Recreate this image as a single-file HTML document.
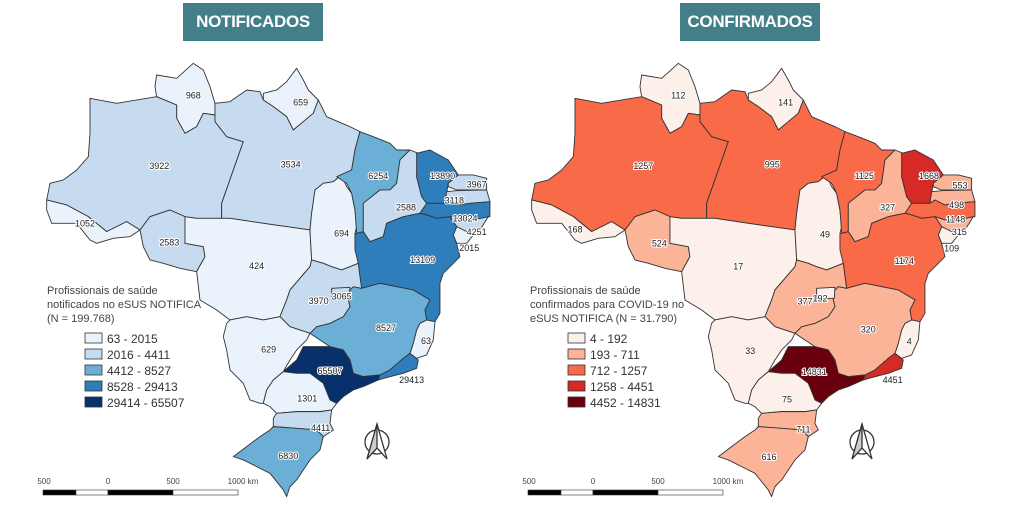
<!DOCTYPE html>
<html><head><meta charset="utf-8"><style>
body{margin:0;background:#fff;width:1024px;height:506px;overflow:hidden;font-family:"Liberation Sans",sans-serif}
.hd{position:absolute;top:3px;height:38px;width:140px;background:#437f89;color:#fff;font-weight:bold;font-size:17px;letter-spacing:-0.3px;line-height:38px;text-align:center}
</style></head><body>
<div class="hd" style="left:183px">NOTIFICADOS</div>
<div class="hd" style="left:680px">CONFIRMADOS</div>
<svg width="1024" height="506" style="position:absolute;left:0;top:0">
<defs>
<g id="m" stroke="#333" stroke-width="2.7" stroke-linejoin="round">
<path style="fill:var(--RR)" d="M380,75 440,85 490,40 520,60 540,110 555,160 555,195 520,190 500,230 465,250 440,205 440,165 380,140 375,110Z"/>
<path style="fill:var(--AP)" d="M700,130 740,120 770,95 800,55 820,90 835,120 865,150 850,190 820,215 790,240 770,200 730,170 700,150Z"/>
<path style="fill:var(--AM)" d="M180,145 260,160 380,140 440,165 440,205 465,250 500,230 520,190 555,195 555,215 590,260 640,275 575,460 575,505 500,505 465,500 420,480 360,500 330,540 290,515 230,545 175,500 110,465 50,450 60,400 100,390 140,360 175,320 180,250Z"/>
<path style="fill:var(--AC)" d="M50,450 110,465 175,500 230,545 290,515 330,540 300,560 250,565 200,580 180,570 140,520 90,520 65,520 50,480Z"/>
<path style="fill:var(--PA)" d="M555,195 555,160 600,155 650,120 690,125 700,150 730,170 770,200 790,240 820,215 850,190 865,150 890,200 960,230 990,245 975,300 965,360 935,375 910,395 880,400 855,420 845,490 840,540 700,520 600,505 575,505 575,460 640,275 590,260 555,215Z"/>
<path style="fill:var(--RO)" d="M330,540 360,500 420,480 465,500 465,580 520,590 525,620 500,665 450,655 400,640 360,630 340,590Z"/>
<path style="fill:var(--MT)" d="M465,500 500,505 575,505 600,505 700,520 840,540 845,630 840,650 780,720 770,750 750,800 700,810 650,800 600,810 560,780 510,750 500,665 525,620 520,590 465,580Z"/>
<path style="fill:var(--TO)" d="M935,375 950,410 965,430 975,480 980,530 975,550 985,640 960,650 935,660 905,650 880,640 845,630 840,540 845,490 855,420 880,400 910,395Z"/>
<path style="fill:var(--MA)" d="M990,245 1030,260 1080,280 1100,300 1140,300 1110,330 1100,400 1080,420 1050,420 1000,460 1000,545 980,550 975,480 965,430 950,400 920,380 965,360 975,300Z"/>
<path style="fill:var(--PI)" d="M1140,300 1165,310 1160,380 1175,440 1190,460 1170,490 1120,500 1070,520 1060,560 1020,575 1000,545 1000,460 1050,420 1080,420 1100,400 1110,330Z"/>
<path style="fill:var(--CE)" d="M1160,310 1200,300 1255,330 1285,375 1255,400 1245,460 1190,460 1175,440 1160,380Z"/>
<path style="fill:var(--RN)" d="M1285,375 1330,375 1370,385 1370,420 1320,420 1280,420 1255,410 1255,400Z"/>
<path style="fill:var(--PB)" d="M1250,425 1280,422 1370,420 1380,455 1320,460 1290,465 1260,450 1245,460Z"/>
<path style="fill:var(--PE)" d="M1190,460 1245,460 1260,450 1290,465 1320,460 1380,455 1380,500 1330,510 1290,510 1260,500 1220,505 1190,495 1170,490Z"/>
<path style="fill:var(--AL)" d="M1290,510 1330,510 1375,500 1350,540 1310,545 1280,530 1260,500Z"/>
<path style="fill:var(--SE)" d="M1280,530 1310,545 1330,555 1310,580 1280,580 1270,555Z"/>
<path style="fill:var(--BA)" d="M1000,545 1020,575 1060,560 1070,520 1120,500 1170,490 1190,495 1220,505 1260,500 1280,530 1270,555 1280,580 1290,620 1260,650 1240,670 1230,700 1230,790 1215,815 1190,810 1185,780 1200,750 1150,720 1100,710 1050,700 995,715 990,680 985,640 975,600 975,550 980,550Z"/>
<path style="fill:var(--ES)" d="M1170,820 1190,810 1215,815 1210,870 1190,915 1160,925 1140,910 1150,880 1160,840Z"/>
<path style="fill:var(--MG)" d="M995,715 1050,700 1100,710 1150,720 1200,750 1185,780 1190,810 1170,820 1160,840 1150,880 1140,910 1120,925 1080,960 1050,975 1000,980 970,970 960,930 940,900 900,890 870,870 840,850 860,830 900,820 940,800 960,770 950,730 970,710Z"/>
<path style="fill:var(--RJ)" d="M1140,910 1165,930 1160,955 1120,970 1080,980 1045,990 1050,975 1080,960 1120,925Z"/>
<path style="fill:var(--SP)" d="M760,965 800,930 820,890 870,890 900,890 940,900 960,930 970,970 1000,980 1050,975 1045,990 1000,1010 970,1020 940,1040 920,1060 900,1050 880,1000 840,970 800,970Z"/>
<path style="fill:var(--GO)" d="M845,630 880,640 905,650 935,660 960,650 985,640 990,680 995,715 970,710 950,730 960,770 940,800 900,820 860,830 840,850 780,830 760,810 750,800 770,750 780,720 840,650Z"/>
<path style="fill:var(--DF)" d="M905,715 960,712 958,745 905,745Z"/>
<path style="fill:var(--MS)" d="M600,810 650,800 700,810 750,800 760,810 780,830 840,850 830,870 800,900 780,930 760,965 730,990 710,1020 700,1060 690,1060 660,1050 640,1000 600,960 590,900 580,860 590,820Z"/>
<path style="fill:var(--PR)" d="M760,965 800,970 840,970 880,1000 900,1050 920,1060 905,1080 870,1085 800,1085 740,1090 720,1070 700,1060 710,1020 730,990Z"/>
<path style="fill:var(--SC)" d="M740,1090 800,1085 870,1085 905,1080 900,1120 910,1140 880,1160 860,1140 800,1135 730,1130 730,1105Z"/>
<path style="fill:var(--RS)" d="M730,1130 800,1135 860,1140 880,1160 870,1200 840,1230 820,1260 800,1290 780,1310 770,1340 760,1320 720,1270 680,1250 640,1230 610,1220 650,1190 690,1160 720,1140Z"/>
</g>
<g id="na" fill="none" stroke="#333" stroke-width="1.3">
<circle cx="0" cy="0" r="12" fill="#fff"/>
<path d="M0,-18 L-10,17 L0,6 L10,17Z" fill="#fff"/>
<path d="M0,-18 L0,6 L-10,17Z" fill="#ccc"/>
</g>
</defs>
<use href="#m" transform="translate(30,50) scale(0.3333)" style="--RR:#eaf2fb;--AP:#eaf2fb;--AM:#c6dbef;--AC:#eaf2fb;--PA:#c6dbef;--RO:#c6dbef;--MT:#eaf2fb;--TO:#eaf2fb;--MA:#6baed6;--PI:#c6dbef;--CE:#2f7ebc;--RN:#c6dbef;--PB:#c6dbef;--PE:#2f7ebc;--AL:#c6dbef;--SE:#eaf2fb;--BA:#2f7ebc;--ES:#eaf2fb;--MG:#6baed6;--RJ:#2f7ebc;--SP:#08306b;--GO:#c6dbef;--DF:#c6dbef;--MS:#eaf2fb;--PR:#eaf2fb;--SC:#c6dbef;--RS:#6baed6"/>
<use href="#m" transform="translate(515,50) scale(0.3333)" style="--RR:#fdf0ea;--AP:#fdf0ea;--AM:#f86a48;--AC:#fdf0ea;--PA:#f86a48;--RO:#fcb499;--MT:#fdf0ea;--TO:#fdf0ea;--MA:#f86a48;--PI:#fcb499;--CE:#d62a26;--RN:#fcb499;--PB:#fcb499;--PE:#f86a48;--AL:#fcb499;--SE:#fdf0ea;--BA:#f86a48;--ES:#fdf0ea;--MG:#fcb499;--RJ:#d62a26;--SP:#6a000d;--GO:#fcb499;--DF:#fdf0ea;--MS:#fdf0ea;--PR:#fdf0ea;--SC:#fcb499;--RS:#fcb499"/>
<g font-size="27" text-anchor="middle" fill="#222" stroke="#fff" stroke-width="6" paint-order="stroke" transform="translate(30,59) scale(0.3333)">
<text x="490" y="118">968</text><text x="812" y="140">659</text><text x="388" y="330">3922</text><text x="782" y="325">3534</text><text x="165" y="503">1052</text><text x="418" y="560">2583</text><text x="680" y="630">424</text><text x="935" y="533">694</text><text x="1045" y="360">6254</text><text x="1128" y="455">2588</text><text x="1238" y="360">13890</text><text x="1340" y="385">3967</text><text x="1273" y="433">3118</text><text x="1305" y="487">13024</text><text x="1340" y="528">4251</text><text x="1318" y="576">2015</text><text x="1178" y="612">13109</text><text x="866" y="735">3970</text><text x="935" y="722">3065</text><text x="1068" y="816">8527</text><text x="1188" y="855">63</text><text x="716" y="880">629</text><text x="900" y="945">65507</text><text x="1145" y="972">29413</text><text x="832" y="1027">1301</text><text x="872" y="1116">4411</text><text x="775" y="1200">6830</text>
</g>
<g font-size="27" text-anchor="middle" fill="#222" stroke="#fff" stroke-width="6" paint-order="stroke" transform="translate(515,59) scale(0.3333)">
<text x="490" y="118">112</text><text x="812" y="140">141</text><text x="385" y="330">1257</text><text x="772" y="325">995</text><text x="180" y="520">168</text><text x="433" y="562">524</text><text x="670" y="632">17</text><text x="930" y="535">49</text><text x="1048" y="360">1125</text><text x="1118" y="455">327</text><text x="1242" y="360">1668</text><text x="1335" y="388">553</text><text x="1325" y="447">498</text><text x="1322" y="490">1148</text><text x="1333" y="528">315</text><text x="1310" y="578">109</text><text x="1168" y="615">1174</text><text x="870" y="737">377</text><text x="915" y="728">192</text><text x="1060" y="820">320</text><text x="1183" y="857">4</text><text x="706" y="885">33</text><text x="898" y="948">14831</text><text x="1133" y="972">4451</text><text x="816" y="1030">75</text><text x="865" y="1120">711</text><text x="762" y="1203">616</text>
</g>
<g font-size="11" fill="#444">
<text x="47" y="294">Profissionais de saúde</text><text x="47" y="308">notificados no eSUS NOTIFICA</text><text x="47" y="322">(N = 199.768)</text>
<text x="530" y="294">Profissionais de saúde</text><text x="530" y="308">confirmados para COVID-19 no</text><text x="530" y="322">eSUS NOTIFICA (N = 31.790)</text>
</g>
<g stroke="#333" stroke-width="0.8">
<rect x="85" y="333" width="17" height="10" fill="#eaf2fb"/><rect x="85" y="349" width="17" height="10" fill="#c6dbef"/><rect x="85" y="365" width="17" height="10" fill="#6baed6"/><rect x="85" y="381" width="17" height="10" fill="#2f7ebc"/><rect x="85" y="397" width="17" height="10" fill="#08306b"/>
<rect x="568" y="333" width="17" height="10" fill="#fdf0ea"/><rect x="568" y="349" width="17" height="10" fill="#fcb499"/><rect x="568" y="365" width="17" height="10" fill="#f86a48"/><rect x="568" y="381" width="17" height="10" fill="#d62a26"/><rect x="568" y="397" width="17" height="10" fill="#6a000d"/>
</g>
<g font-size="12" fill="#333">
<text x="107" y="343">63 - 2015</text><text x="107" y="359">2016 - 4411</text><text x="107" y="375">4412 - 8527</text><text x="107" y="391">8528 - 29413</text><text x="107" y="407">29414 - 65507</text>
<text x="590" y="343">4 - 192</text><text x="590" y="359">193 - 711</text><text x="590" y="375">712 - 1257</text><text x="590" y="391">1258 - 4451</text><text x="590" y="407">4452 - 14831</text>
</g>
<use href="#na" transform="translate(377,442)"/>
<use href="#na" transform="translate(862,442)"/>
<g font-size="8" fill="#444" text-anchor="middle">
<text x="44" y="484">500</text><text x="108" y="484">0</text><text x="173" y="484">500</text><text x="243" y="484">1000 km</text>
<text x="529" y="484">500</text><text x="593" y="484">0</text><text x="658" y="484">500</text><text x="728" y="484">1000 km</text>
</g>
<g stroke="#333" stroke-width="0.6">
<rect x="43" y="490" width="33" height="5" fill="#000"/><rect x="76" y="490" width="32" height="5" fill="#fff"/><rect x="108" y="490" width="65" height="5" fill="#000"/><rect x="173" y="490" width="65" height="5" fill="#fff"/>
<rect x="528" y="490" width="33" height="5" fill="#000"/><rect x="561" y="490" width="32" height="5" fill="#fff"/><rect x="593" y="490" width="65" height="5" fill="#000"/><rect x="658" y="490" width="65" height="5" fill="#fff"/>
</g>
</svg>
</body></html>
